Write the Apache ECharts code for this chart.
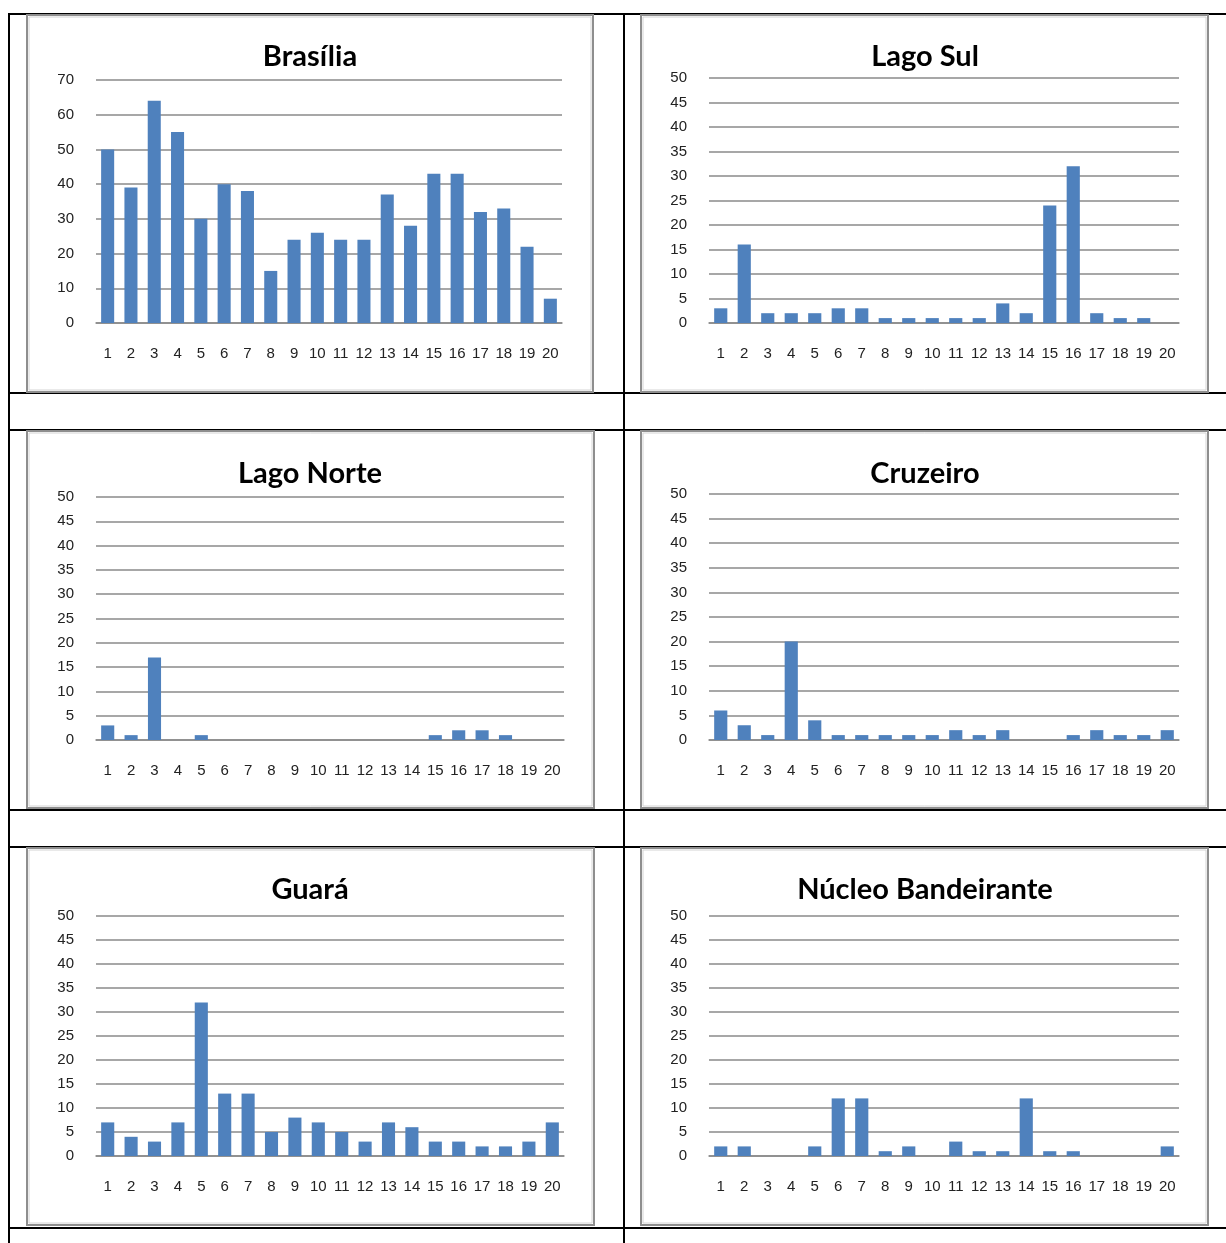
<!DOCTYPE html>
<html><head><meta charset="utf-8">
<script src="https://cdn.jsdelivr.net/npm/echarts@6/dist/echarts.min.js"></script>
<style>html,body{margin:0;padding:0;background:#fff}#c{width:1226px;height:1243px}</style>
</head><body><div id="c"></div>
<script>
const categories = ['1','2','3','4','5','6','7','8','9','10','11','12','13','14','15','16','17','18','19','20'];
const titles = ['Brasília','Lago Sul','Lago Norte','Cruzeiro','Guará','Núcleo Bandeirante'];
const brasilia = [50,39,64,55,30,40,38,15,24,26,24,24,37,28,43,43,32,33,22,7];
const lagoSul = [3,16,2,2,2,3,3,1,1,1,1,1,4,2,24,32,2,1,1,0];
const lagoNorte = [3,1,17,0,1,0,0,0,0,0,0,0,0,0,1,2,2,1,0,0];
const cruzeiro = [6,3,1,20,4,1,1,1,1,1,2,1,2,0,0,1,2,1,1,2];
const guara = [7,4,3,7,32,13,13,5,8,7,5,3,7,6,3,3,2,2,3,7];
const nucleo = [2,2,0,0,2,12,12,1,2,0,3,1,1,12,1,1,0,0,0,2];
const seriesData = [brasilia, lagoSul, lagoNorte, cruzeiro, guara, nucleo];
const yMax = [70,50,50,50,50,50];
const yInterval = [10,5,5,5,5,5];

const grids = [
  {left:96, top:80, width:466, height:243},
  {left:709, top:78, width:470, height:245},
  {left:96, top:497, width:468, height:243},
  {left:709, top:494, width:470, height:246},
  {left:96, top:916, width:468, height:240},
  {left:709, top:916, width:470, height:240}
];
const titlePos = [[310,42],[925,42],[310,459],[925,459],[310,875],[925,875]];
const frames = [
  [27,15,566,377],[641,15,567,377],
  [27,431,567,377],[641,431,567,377],
  [27,848,567,377],[641,848,567,377]
];

const chart = echarts.init(document.getElementById('c'), null, {renderer:'canvas'});
const graphic = [];
[14,393,430,810,847,1228].forEach(y=>graphic.push({type:'line',shape:{x1:8,y1:y,x2:1226,y2:y},style:{stroke:'#000',lineWidth:2},z:10}));
[9,624].forEach(x=>graphic.push({type:'line',shape:{x1:x,y1:13,x2:x,y2:1243},style:{stroke:'#000',lineWidth:2},z:10}));
frames.forEach(f=>{
  graphic.push({type:'rect',shape:{x:f[0],y:f[1],width:f[2],height:f[3]},style:{fill:null,stroke:'#8e8e8e',lineWidth:2},z:11});
  graphic.push({type:'rect',shape:{x:f[0]+2,y:f[1]+2,width:f[2]-4,height:f[3]-4},style:{fill:null,stroke:'#d4d4d4',lineWidth:1},z:11});
});

const option = {
  animation:false,
  backgroundColor:'#fff',
  title: titles.map((t,i)=>({text:t,left:titlePos[i][0],top:titlePos[i][1],textAlign:'center',padding:0,
    textStyle:{fontFamily:'Lato',fontWeight:'bold',fontSize:29,color:'#000'}})),
  grid: grids.map(g=>Object.assign({containLabel:false},g)),
  xAxis: grids.map((g,i)=>({type:'category',gridIndex:i,data:categories,
    axisLine:{lineStyle:{color:'#8a8a8a',width:1.5}},axisTick:{show:false},
    axisLabel:{margin:23,fontFamily:'Liberation Sans',fontSize:15,color:'#222',interval:0}})),
  yAxis: grids.map((g,i)=>({type:'value',gridIndex:i,min:0,max:yMax[i],interval:yInterval[i],
    axisLine:{show:false},axisTick:{show:false},
    splitLine:{lineStyle:{color:'#8a8a8a',width:1.5}},
    axisLabel:{margin:22,fontFamily:'Liberation Sans',fontSize:15,color:'#222'}})),
  series: seriesData.map((d,i)=>({type:'bar',xAxisIndex:i,yAxisIndex:i,data:d,barWidth:'56%',
    itemStyle:{color:'#4f81bd'}})),
  graphic: graphic
};
chart.setOption(option);
</script></body></html>
